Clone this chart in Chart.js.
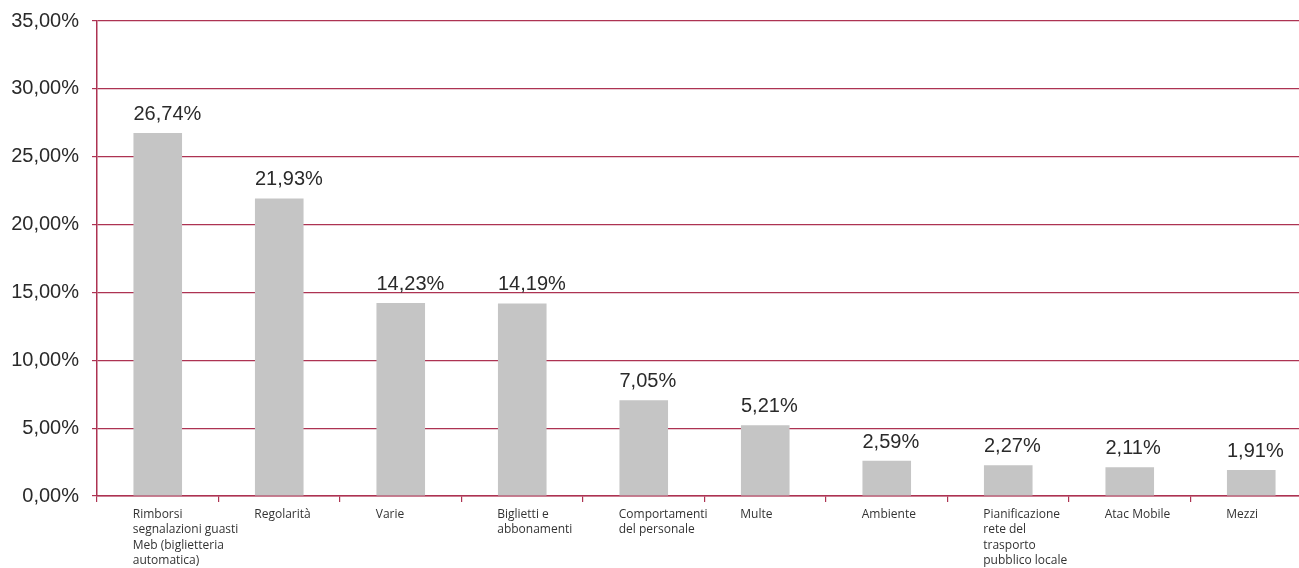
<!DOCTYPE html>
<html>
<head>
<meta charset="utf-8">
<script src="https://cdn.jsdelivr.net/npm/chart.js@4"></script>
<style>
  html, body { margin: 0; padding: 0; background: #fff; overflow: hidden; }
  #wrap { width: 1320px; height: 568px; position: relative; }
</style>
</head>
<body>
<div id="wrap"><canvas id="c"></canvas></div>
<script>
const categories = [
  ["Rimborsi", "segnalazioni guasti", "Meb (biglietteria", "automatica)"],
  ["Regolarità"],
  ["Varie"],
  ["Biglietti e", "abbonamenti"],
  ["Comportamenti", "del personale"],
  ["Multe"],
  ["Ambiente"],
  ["Pianificazione", "rete del", "trasporto", "pubblico locale"],
  ["Atac Mobile"],
  ["Mezzi"]
];
const values = [26.74, 21.93, 14.23, 14.19, 7.05, 5.21, 2.59, 2.27, 2.11, 1.91];
const yTicks = [0, 5, 10, 15, 20, 25, 30, 35];

const RED = '#ad3352';
const fmt = v => v.toFixed(2).replace('.', ',') + '%';

const valueLabels = {
  id: 'valueLabels',
  afterDatasetsDraw(chart) {
    const ctx = chart.ctx;
    const meta = chart.getDatasetMeta(0);
    ctx.save();
    ctx.font = '20px "Liberation Sans", Arial, sans-serif';
    ctx.fillStyle = '#2a2a2a';
    ctx.textAlign = 'left';
    ctx.textBaseline = 'alphabetic';
    meta.data.forEach((bar, i) => {
      ctx.fillText(fmt(values[i]), bar.x - bar.width / 2, bar.y - 13);
    });
    ctx.restore();
  }
};

new Chart(document.getElementById('c'), {
  type: 'bar',
  data: {
    labels: categories,
    datasets: [{
      data: values,
      backgroundColor: '#c5c5c5',
      borderWidth: 0,
      barPercentage: 0.4,
      categoryPercentage: 1.0
    }]
  },
  options: {
    responsive: true,
    maintainAspectRatio: false,
    animation: false,
    layout: { padding: { top: 20, right: 8, bottom: 0, left: 0 } },
    plugins: { legend: { display: false }, tooltip: { enabled: false } },
    scales: {
      x: {
        offset: true,
        grid: { display: true, drawOnChartArea: false, offset: true, color: RED, tickLength: 6, lineWidth: 1.2 },
        border: { display: true, color: RED, width: 1.5 },
        ticks: {
          autoSkip: false, maxRotation: 0, minRotation: 0,
          align: 'start', labelOffset: -25, padding: 5,
          color: '#333',
          font: { family: '"Open Sans", "Noto Sans", sans-serif', size: 12, lineHeight: 1.27 }
        },
        afterFit(scale) { scale.height = 72; }
      },
      y: {
        min: 0, max: 35,
        afterBuildTicks(scale) { scale.ticks = yTicks.map(v => ({ value: v })); },
        grid: { color: RED, lineWidth: 1.2, tickLength: 5, drawTicks: true },
        border: { display: true, color: RED, width: 1.5 },
        ticks: {
          padding: 13,
          color: '#2a2a2a',
          font: { family: '"Liberation Sans", Arial, sans-serif', size: 20, lineHeight: 0.8 },
          callback: v => fmt(v)
        },
        afterFit(scale) { scale.width = 97; }
      }
    }
  },
  plugins: [valueLabels]
});
</script>
</body>
</html>
